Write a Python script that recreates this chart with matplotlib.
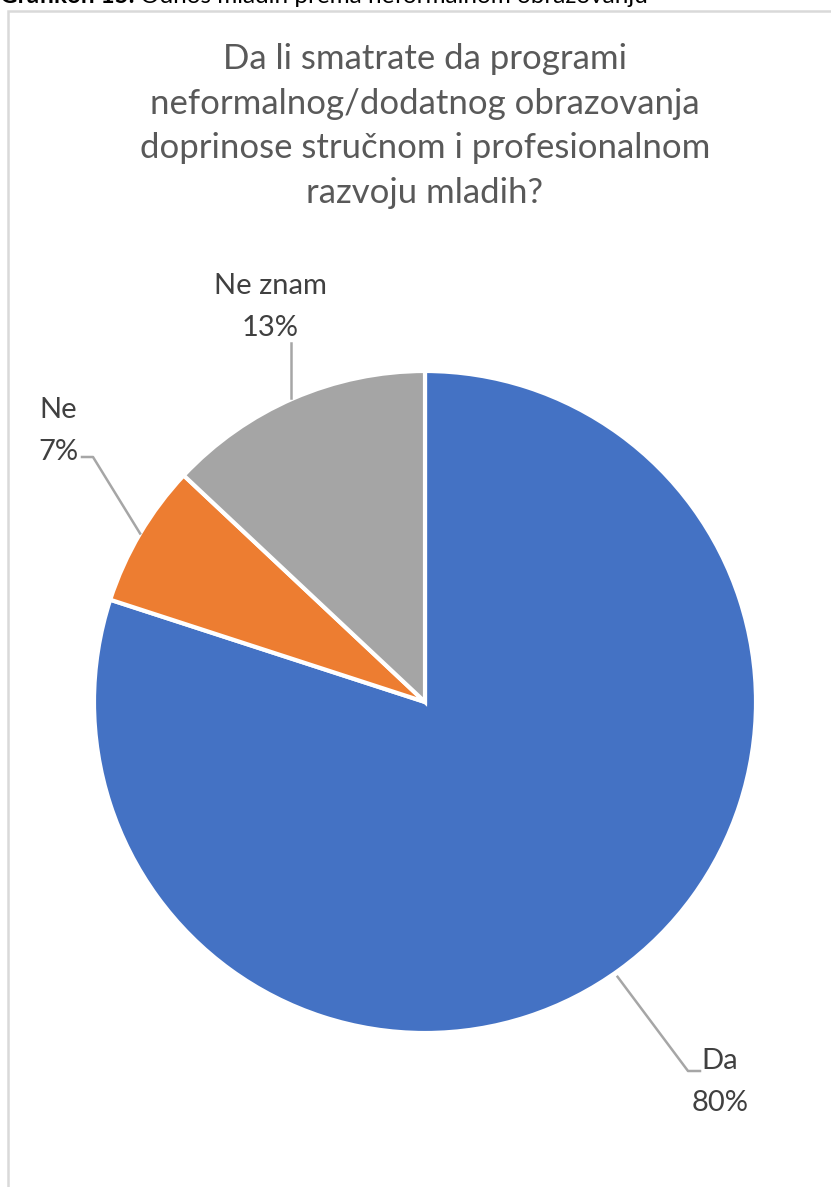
import matplotlib
matplotlib.use("Agg")
import matplotlib.pyplot as plt
from matplotlib.patches import Rectangle
import numpy as np

categories = ["Da", "Ne", "Ne znam"]
values = [80, 7, 13]
colors = ["#4472C4", "#ED7D31", "#A5A5A5"]
title = "Da li smatrate da programi\nneformalnog/dodatnog obrazovanja\ndoprinose stručnom i profesionalnom\nrazvoju mladih?"
caption_bold = "Grafikon 15."
caption_rest = " Odnos mladih prema neformalnom obrazovanju"

W, H = 831, 1187
fig = plt.figure(figsize=(W / 100, H / 100), dpi=100)
ax = fig.add_axes([0, 0, 1, 1])
ax.set_xlim(0, W)
ax.set_ylim(0, H)
ax.set_aspect("equal")
ax.axis("off")

FONT = "Lato"

def Y(y):
    return H - y

# chart border
ax.add_patch(Rectangle((8, Y(1300)), 900, 1300 - 11, fill=False, ec="#D9D9D9", lw=1.8))

# caption (partially clipped at top, as in the reference)
t = ax.text(0, Y(3), caption_bold, fontsize=17.5, fontweight="bold", family=FONT,
            color="black", va="baseline", ha="left")
fig.canvas.draw()
bb = t.get_window_extent()
ax.text(bb.x1, Y(3), caption_rest, fontsize=17.5, family=FONT, color="black",
        va="baseline", ha="left")

# title
ax.text(425, Y(126), title, fontsize=25, family=FONT, color="#595959",
        ha="center", va="center", linespacing=1.49)

cx, cy, r = 425, Y(702), 331
wedges, _ = ax.pie(values, colors=colors, startangle=90, counterclock=False,
                   center=(cx, cy), radius=r,
                   wedgeprops=dict(edgecolor="white", linewidth=3))
ax.set_xlim(0, W)
ax.set_ylim(0, H)

lc = "#A6A6A6"
tc = "#404040"
label_pos = {"Da": (720, 1082), "Ne": (58, 431), "Ne znam": (270, 307)}
for w, cat, v in zip(wedges, categories, values):
    ang = np.deg2rad((w.theta1 + w.theta2) / 2)
    px, py = cx + r * np.cos(ang), cy + r * np.sin(ang)
    lx, ly = label_pos[cat]
    ax.text(lx, Y(ly), f"{cat}\n{v}%", fontsize=21, family=FONT, color=tc,
            ha="center", va="center", linespacing=1.72)
    if cat == "Da":
        ax.plot([px - 2, 688, 700], [py - 7, Y(1071), Y(1071)], color=lc, lw=1.8)
    elif cat == "Ne":
        ax.plot([px, 93, 82], [py, Y(457), Y(457)], color=lc, lw=1.8)
    else:
        ax.plot([px - 3, px - 3], [py, Y(343)], color=lc, lw=1.8)

fig.savefig("out.png", dpi=100)
